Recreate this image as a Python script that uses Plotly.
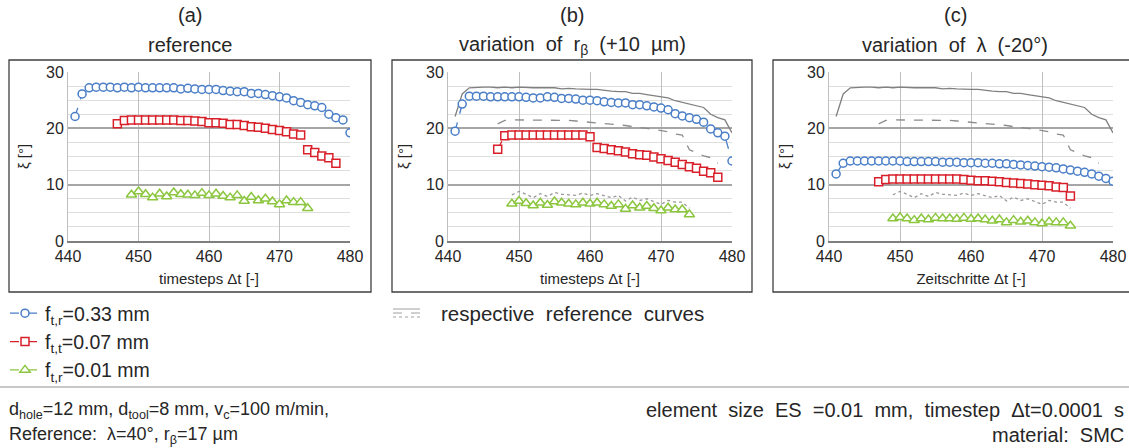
import plotly.graph_objects as go

W, H = 1129, 448

# time steps
t_r033 = list(range(441, 481))
t_r007 = list(range(447, 479))
t_r001 = list(range(449, 475))
t_c007 = list(range(447, 475))

# (a) reference
ref_033 = [22.1, 26.1, 27.2, 27.3, 27.3, 27.3, 27.2, 27.3, 27.2, 27.3, 27.2, 27.2, 27.2, 27.2,
           27.2, 27.0, 27.1, 27.0, 26.9, 26.9, 26.9, 26.7, 26.6, 26.5, 26.5, 26.2, 26.2, 26.0,
           25.8, 25.6, 25.4, 24.9, 24.6, 24.2, 24.0, 23.7, 22.5, 21.9, 21.5, 19.2]
ref_007 = [20.8, 21.4, 21.5, 21.5, 21.5, 21.5, 21.5, 21.5, 21.5, 21.4, 21.4, 21.3, 21.2, 21.0,
           21.0, 20.9, 20.7, 20.7, 20.5, 20.3, 20.2, 20.0, 19.8, 19.6, 19.4, 19.0, 18.8, 16.2,
           15.7, 15.1, 14.8, 13.8]
ref_001 = [8.2, 8.8, 8.3, 7.7, 8.4, 7.9, 8.6, 8.3, 8.2, 8.1, 8.5, 8.1, 8.4, 8.0, 7.7, 8.1,
           7.1, 7.8, 7.2, 7.5, 7.0, 6.5, 7.2, 6.9, 6.9, 5.8]

# (b) variation of r_beta (+10 um)
rb_033 = [19.5, 24.3, 25.7, 25.7, 25.7, 25.6, 25.6, 25.6, 25.6, 25.6, 25.5, 25.4, 25.4, 25.6,
          25.5, 25.3, 25.3, 25.2, 25.0, 25.0, 24.9, 24.7, 24.6, 24.5, 24.5, 24.2, 24.2, 24.0,
          23.8, 23.6, 23.3, 22.6, 22.2, 21.9, 21.6, 21.1, 19.9, 19.2, 18.6, 14.2]
rb_007 = [16.3, 18.7, 18.8, 18.8, 18.8, 18.8, 18.8, 18.8, 18.8, 18.8, 18.8, 18.8, 18.8, 18.5,
          16.6, 16.4, 16.2, 16.0, 15.8, 15.5, 15.3, 15.2, 14.9, 14.6, 14.3, 14.0, 13.6, 13.2,
          12.9, 12.4, 12.1, 11.3]
rb_001 = [6.6, 7.1, 6.7, 6.3, 6.8, 6.4, 7.0, 6.8, 6.6, 6.5, 6.8, 6.6, 6.8, 6.5, 6.2, 6.5,
          5.7, 6.3, 5.9, 6.2, 5.8, 5.4, 5.9, 5.6, 5.6, 4.7]

# (c) variation of lambda (-20 deg)
lam_033 = [11.9, 13.8, 14.2, 14.2, 14.2, 14.2, 14.2, 14.2, 14.2, 14.2, 14.1, 14.1, 14.1, 14.1,
           14.1, 14.0, 14.0, 14.0, 13.9, 13.9, 13.9, 13.8, 13.8, 13.7, 13.7, 13.6, 13.5, 13.4,
           13.3, 13.2, 13.1, 13.0, 12.8, 12.6, 12.4, 12.2, 11.9, 11.5, 11.1, 10.6]
lam_007 = [10.5, 10.9, 11.0, 11.0, 11.0, 11.0, 11.0, 11.0, 11.0, 11.0, 11.0, 11.0, 10.9, 10.8,
           10.7, 10.7, 10.6, 10.5, 10.4, 10.3, 10.2, 10.1, 10.0, 9.9, 9.8, 9.6, 9.5, 8.0]
lam_001 = [4.0, 4.2, 4.0, 3.7, 4.0, 3.8, 4.1, 4.0, 4.0, 3.9, 4.1, 3.9, 4.0, 3.8, 3.6, 3.8,
           3.3, 3.7, 3.4, 3.6, 3.3, 3.1, 3.4, 3.3, 3.3, 2.7]

names = ["f<sub>t,r</sub>=0.33 mm", "f<sub>t,t</sub>=0.07 mm", "f<sub>t,r</sub>=0.01 mm"]
colors = ["#4A7EC7", "#D9202A", "#8CC63F"]
symbols = ["circle", "square", "triangle-up"]
sizes = [8, 8, 9]

panel_titles = ["(a)", "(b)", "(c)"]
panel_subtitles = ["reference",
                   "variation  of  r<sub>β</sub>  (+10  µm)",
                   "variation  of  λ  (-20°)"]
x_titles = ["timesteps Δt [-]", "timesteps Δt [-]", "Zeitschritte Δt [-]"]
x_ticks = [440, 450, 460, 470, 480]
y_ticks = [0, 10, 20, 30]

FONT = "Liberation Sans, Arial, sans-serif"
TXT = "#262626"


def px(x):
    return x / W


def py(y):
    return 1 - y / H


fig = go.Figure()

panels = [
    [(t_r033, ref_033), (t_r007, ref_007), (t_r001, ref_001)],
    [(t_r033, rb_033), (t_r007, rb_007), (t_r001, rb_001)],
    [(t_r033, lam_033), (t_c007, lam_007), (t_r001, lam_001)],
]
references = [(t_r033, ref_033, "solid", "#808080"),
              (t_r007, ref_007, "dash", "#8C8C8C"),
              (t_r001, ref_001, "dot", "#9A9A9A")]

for p, series in enumerate(panels):
    xa = "x" if p == 0 else f"x{p + 1}"
    ya = "y" if p == 0 else f"y{p + 1}"
    # grey reference curves in panels (b) and (c)
    if p > 0:
        for tx, ty, dash, col in references:
            fig.add_trace(go.Scatter(x=tx, y=ty, mode="lines", xaxis=xa, yaxis=ya,
                                     line=dict(color=col, width=1.3, dash=dash),
                                     showlegend=False, hoverinfo="skip"))
    for k, (tx, ty) in enumerate(series):
        fig.add_trace(go.Scatter(
            x=tx, y=ty, mode="lines+markers", xaxis=xa, yaxis=ya,
            name=names[k], showlegend=(p == 0),
            line=dict(color=colors[k], width=1.3, dash="dash"),
            marker=dict(symbol=symbols[k], size=sizes[k], color="white",
                        line=dict(width=1.5, color=colors[k]))))

# plot areas in pixels (left, right)
areas = [(68, 350), (448, 732), (829, 1113)]
top_px, bot_px = 72, 241
frames = [(9, 371), (392, 752), (773, 1135)]
title_x = [190, 572, 955]

layout = dict(
    template="none",
    width=W, height=H, margin=dict(l=0, r=0, t=0, b=0, autoexpand=False),
    paper_bgcolor="white", plot_bgcolor="white",
    font=dict(family=FONT, color=TXT),
    legend=dict(x=px(5), y=py(294), xanchor="left", yanchor="top",
                font=dict(size=19.5, family=FONT, color=TXT),
                bgcolor="rgba(0,0,0,0)", traceorder="normal",
                itemwidth=30, tracegroupgap=0),
    shapes=[], annotations=[],
)

for p in range(3):
    sx = "" if p == 0 else str(p + 1)
    l, r = areas[p]
    layout[f"xaxis{sx}"] = dict(
        domain=[px(l), px(r)], range=[440, 480], tickvals=x_ticks, anchor=f"y{sx}",
        showgrid=True, gridcolor="#BFBFBF", gridwidth=1, zeroline=False, automargin=False,
        showline=True, linecolor="#7F7F7F", linewidth=1.5, ticks="",
        tickfont=dict(size=16, family=FONT, color=TXT),
        title=dict(text=x_titles[p], font=dict(size=15, family=FONT, color=TXT), standoff=10),
    )
    layout[f"yaxis{sx}"] = dict(
        domain=[py(bot_px), py(top_px)], range=[0, 30], tickvals=y_ticks, anchor=f"x{sx}",
        showgrid=True, gridcolor="#A6A6A6", gridwidth=1.5, zeroline=False, automargin=False,
        showline=True, linecolor="#BFBFBF", linewidth=1, ticks="",
        minor=dict(dtick=2.5, showgrid=True, gridcolor="#DEDEDE", gridwidth=1),
        tickfont=dict(size=16, family=FONT, color=TXT),
        title=dict(text="ξ [°]", font=dict(size=15, family=FONT, color=TXT), standoff=12),
    )
    fl, fr = frames[p]
    layout["shapes"].append(dict(type="rect", xref="paper", yref="paper",
                                 x0=px(fl), x1=px(fr), y0=py(292), y1=py(60),
                                 line=dict(color="#3F3F3F", width=1.3)))
    for txt, yy in [(panel_titles[p], 15), (panel_subtitles[p], 45)]:
        layout["annotations"].append(dict(
            text=txt, x=px(title_x[p]), y=py(yy), xref="paper", yref="paper",
            xanchor="center", yanchor="middle", showarrow=False,
            font=dict(size=20, family=FONT, color=TXT)))

# separator line above the parameter notes
layout["shapes"].append(dict(type="line", xref="paper", yref="paper",
                             x0=0, x1=1, y0=py(387), y1=py(387),
                             line=dict(color="#C8C8C8", width=2)))

# icon for the grey reference curves
for dy, dash in [(-4, "solid"), (0, "dash"), (4, "dot")]:
    layout["shapes"].append(dict(type="line", xref="paper", yref="paper",
                                 x0=px(393), x1=px(420), y0=py(313 + dy), y1=py(313 + dy),
                                 line=dict(color="#A0A0A0", width=1, dash=dash)))
layout["annotations"].append(dict(
    text="respective  reference  curves", x=px(439), y=py(313), xref="paper", yref="paper",
    xanchor="left", yanchor="middle", showarrow=False,
    font=dict(size=20.5, family=FONT, color=TXT)))

notes = [
    ("d<sub>hole</sub>=12 mm, d<sub>tool</sub>=8 mm, v<sub>c</sub>=100 m/min,", 7, 410, "left", 18),
    ("Reference:  λ=40°, r<sub>β</sub>=17 µm", 7, 435, "left", 18),
    ("element  size  ES  =0.01  mm,  timestep  Δt=0.0001  s", 1126, 410, "right", 20),
    ("material:  SMC", 1126, 435, "right", 20),
]
for txt, x, y, anc, fs in notes:
    layout["annotations"].append(dict(
        text=txt, x=px(x), y=py(y), xref="paper", yref="paper",
        xanchor=anc, yanchor="middle", showarrow=False,
        font=dict(size=fs, family=FONT, color=TXT)))

fig.update_layout(**layout)
fig.write_html("out.html")
